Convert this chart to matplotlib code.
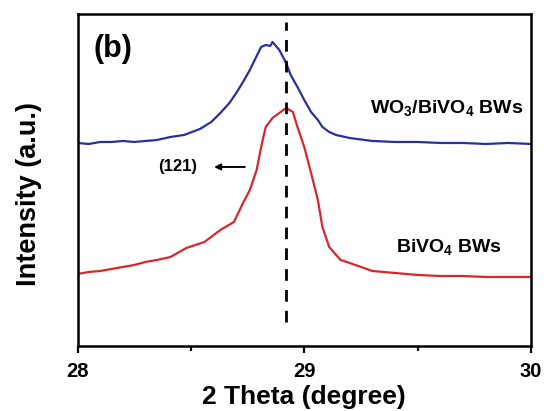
import matplotlib
matplotlib.use("Agg")
import matplotlib.pyplot as plt

plt.rcParams['font.family'] = ['Liberation Sans', 'DejaVu Sans']
plt.rcParams['font.weight'] = 'bold'
plt.rcParams['mathtext.default'] = 'regular'

# 2 theta positions and intensities (arbitrary units)
theta_blue = [28.00, 28.05, 28.10, 28.15, 28.20, 28.25, 28.30, 28.35, 28.41, 28.47, 28.54,
              28.59, 28.63, 28.67, 28.70, 28.73, 28.76, 28.79, 28.81, 28.83, 28.85, 28.86,
              28.89, 28.92, 28.94, 28.97, 29.00, 29.03, 29.06, 29.08, 29.11, 29.14, 29.20,
              29.30, 29.40, 29.50, 29.60, 29.70, 29.80, 29.90, 30.00]
blue = [203, 202, 204, 204, 205, 204, 205, 206, 209, 211, 217,
        224, 233, 243, 253, 264, 276, 290, 299, 301, 300, 304,
        296, 283, 271, 259, 246, 234, 226, 219, 214, 211, 208,
        205, 204, 204, 203, 203, 202, 203, 202]

theta_red = [28.00, 28.05, 28.10, 28.15, 28.20, 28.25, 28.30, 28.35, 28.41, 28.48, 28.56,
             28.63, 28.69, 28.73, 28.76, 28.79, 28.81, 28.83, 28.86, 28.89, 28.92, 28.95,
             28.97, 29.00, 29.03, 29.06, 29.08, 29.11, 29.16, 29.20, 29.30, 29.40, 29.50,
             29.60, 29.70, 29.80, 29.90, 30.00]
red = [72, 74, 75, 77, 79, 81, 84, 86, 89, 98, 104,
       116, 124, 143, 156, 176, 199, 219, 228, 233, 238, 234,
       219, 199, 173, 146, 119, 99, 86, 83, 75, 73, 71,
       70, 70, 69, 69, 69]

peak_pos = 28.92

fig = plt.figure(figsize=(5.44, 4.11), dpi=100)
ax = fig.add_axes([0.1425, 0.1582, 0.8336, 0.8078])

ax.plot(theta_blue, blue, color='#2b2f9c', lw=1.6)
ax.plot(theta_red, red, color='#d6282c', lw=1.6)
ax.plot([peak_pos, peak_pos], [24, 324], color='black', lw=2, dashes=(4.2, 3.3))

ax.set_xlim(28, 30)
ax.set_ylim(0, 332)
ax.set_xticks([28, 29, 30])
ax.set_xticks([28.5, 29.5], minor=True)
ax.tick_params(axis='x', which='major', direction='out', length=5, width=1.6,
               labelsize=14.5, pad=6.5)
ax.tick_params(axis='x', which='minor', direction='out', length=3.4, width=1.6)
ax.set_yticks([])
for lbl in ax.get_xticklabels():
    lbl.set_fontweight('bold')
for s in ax.spines.values():
    s.set_linewidth(1.8)

ax.set_xlabel('2 Theta (degree)', fontsize=19, fontweight='bold', labelpad=3)
ax.set_ylabel('Intensity (a.u.)', fontsize=19.5, fontweight='bold')
ax.yaxis.set_label_coords(-0.079, 0.459)

ax.text(0.036, 0.893, '(b)', transform=ax.transAxes, fontsize=22, fontweight='bold',
        va='center', ha='left')
ax.text(29.63, 238, 'WO$_3$/BiVO$_4$ BWs', fontsize=14, fontweight='bold',
        ha='center', va='center')
ax.text(29.64, 99, 'BiVO$_4$ BWs', fontsize=14, fontweight='bold',
        ha='center', va='center')
ax.text(28.44, 179, '(121)', fontsize=12, fontweight='bold', ha='center', va='center')
ax.annotate('', xy=(28.59, 179), xytext=(28.75, 179),
            arrowprops=dict(arrowstyle='-|>', color='black', lw=1.4, mutation_scale=9))

fig.savefig('out.png', dpi=100)
